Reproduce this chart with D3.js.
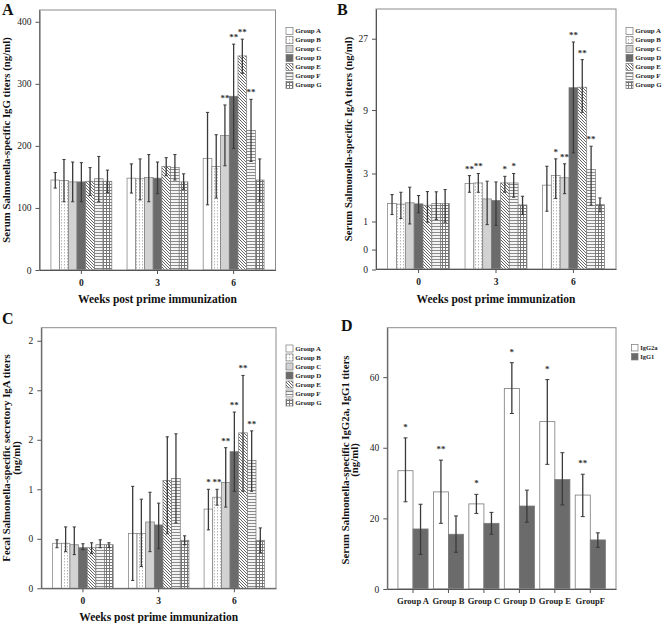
<!DOCTYPE html>
<html><head><meta charset="utf-8">
<script src="https://cdn.jsdelivr.net/npm/d3@7"></script>
<style>
html,body{margin:0;padding:0;background:#fff;}
svg{display:block;font-family:"Liberation Serif","Times New Roman",serif;}
</style></head>
<body>
<svg id="chart" width="664" height="623"></svg>
<script>
// ---------- DATA ----------
const weeks = ["0", "3", "6"];
const groups = ["Group A", "Group B", "Group C", "Group D", "Group E", "Group F", "Group G"];

// Panel A: serum IgG (ng/ml); rows = weeks, cols = groups
const iggMean = [[145,144,142,142,143,147,143],[148,147,149,148,167,165,142],[180,167,217,280,345,225,145]];
const iggHi   = [[157,178,174,173,165,183,161],[171,179,186,174,181,186,155],[254,218,266,364,372,275,179]];
const iggLo   = [[132,110,110,110,120,110,125],[124,113,110,123,152,145,130],[105,116,168,196,317,175,111]];
const iggStars = [["","","","","","",""],["","","","","","",""],["","","**","**","**","**",""]];
const iggTicks = [0,100,200,300,400];
const iggTickLabels = ["0","100","200","300","400"];

// Panel B: serum IgA (ng/ml)
const igaMean = [[1.59,1.57,1.62,1.58,1.53,1.59,1.59],[2.46,2.49,1.77,1.71,2.49,2.49,1.54],[2.38,2.88,2.76,12.8,12.9,3.23,1.55]];
const igaHi   = [[1.95,2.05,2.28,1.91,2.08,2.07,2.17],[2.88,3.0,2.58,2.54,2.84,3.0,1.88],[3.44,3.94,3.60,25.7,19.7,4.93,1.81]];
const igaLo   = [[1.21,1.09,0.93,1.27,0.98,1.06,0.98],[2.05,2.05,0.91,0.89,2.05,1.84,1.21],[1.32,1.79,1.99,4.39,8.68,1.53,1.30]];
const igaStars = [["","","","","","",""],["**","**","","","*","*",""],["","*","**","**","**","**",""]];
const igaTicks = [0,1/3,1,3,9,27];
const igaTickLabels = ["0","0","1","3","9","27"];

// Panel C: fecal secretory IgA (ng/ml)
const sigaMean = [[0.455,0.455,0.44,0.41,0.41,0.44,0.44],[0.555,0.555,0.67,0.64,1.09,1.11,0.485],[0.80,0.92,1.07,1.38,1.57,1.29,0.485]];
const sigaHi   = [[0.49,0.62,0.62,0.45,0.46,0.49,0.46],[1.03,0.90,0.97,0.86,1.53,1.56,0.53],[1.00,1.00,1.42,1.78,2.15,1.59,0.61]];
const sigaLo   = [[0.41,0.37,0.34,0.39,0.35,0.41,0.41],[0.08,0.22,0.37,0.40,0.55,0.66,0.44],[0.59,0.84,0.82,0.98,0.98,0.98,0.36]];
const sigaStars = [["","","","","","",""],["","","","","","",""],["*","**","**","**","**","**",""]];
const sigaTicks = [0,0.5,1,1.5,2,2.5];
const sigaTickLabels = ["0","0","1","2","2","2"];

// Panel D: IgG2a / IgG1 (ng/ml)
const dGroups = ["Group A","Group B","Group C","Group D","Group E","GroupF"];
const dSeries = ["IgG2a","IgG1"];
const igg2aMean = [33.5,27.5,24.1,56.8,47.4,26.6];
const igg2aHi   = [42.8,36.5,26.8,64.1,59.3,32.5];
const igg2aLo   = [24.7,18.6,21.4,49.7,35.3,20.5];
const igg2aStars = ["*","**","*","*","*","**"];
const igg1Mean = [17.0,15.5,18.6,23.5,31.0,13.9];
const igg1Hi   = [24.0,20.7,21.7,28.0,38.6,15.9];
const igg1Lo   = [9.8,10.4,15.5,18.9,23.8,11.8];
const dTicks = [0,20,40,60];
const dTickLabels = ["0","20","40","60"];

// ---------- DRAWING ----------
const svg = d3.select("#chart");
const FONT = '"Liberation Serif","Times New Roman",serif';
const defs = svg.append("defs");

function pat(id, w, h, bg, draw) {
  const p = defs.append("pattern").attr("id", id).attr("patternUnits", "userSpaceOnUse")
    .attr("width", w).attr("height", h);
  p.append("rect").attr("width", w).attr("height", h).attr("fill", bg);
  draw(p);
}
pat("pB", 3, 3, "#ffffff", p => p.append("rect").attr("x", 1).attr("y", 0).attr("width", 1).attr("height", 1.5).attr("fill", "#b8b8b8"));
pat("pE", 3, 3, "#ffffff", p => p.append("path").attr("d", "M0,0L3,3M-1,2L1,4M2,-1L4,1").attr("stroke", "#555").attr("stroke-width", 0.9));
pat("pF", 3, 3, "#f4f4f4", p => p.append("rect").attr("x", 0).attr("y", 1).attr("width", 3).attr("height", 1).attr("fill", "#8a8a8a"));
pat("pG", 3, 3, "#ffffff", p => {
  p.append("rect").attr("x", 0).attr("y", 1).attr("width", 3).attr("height", 1).attr("fill", "#777");
  p.append("rect").attr("x", 1).attr("y", 0).attr("width", 1).attr("height", 3).attr("fill", "#777");
});
const groupFill = ["#ffffff", "url(#pB)", "#d2d2d2", "#6b6b6b", "url(#pE)", "url(#pF)", "url(#pG)"];

function frameAndAxes(g, box, y, ticks, tickLabels, x, xLabelsBold) {
  g.append("rect").attr("x", box.l).attr("y", box.t).attr("width", box.r - box.l).attr("height", box.b - box.t)
    .attr("fill", "none").attr("stroke", "#8c8c8c").attr("stroke-width", 1);
  const ya = d3.axisLeft(y).tickValues(ticks).tickFormat((d, i) => tickLabels[i]).tickSize(4).tickSizeOuter(0);
  const yg = g.append("g").attr("transform", `translate(${box.l},0)`).call(ya);
  yg.select(".domain").attr("stroke", "#555");
  yg.selectAll(".tick line").attr("stroke", "#555");
  yg.selectAll(".tick text").attr("font-family", FONT).attr("font-size", 9.5).attr("fill", "#222").attr("dx", "-1");
  const xa = d3.axisBottom(x).tickSize(4).tickSizeOuter(0);
  const xg = g.append("g").attr("transform", `translate(0,${box.b})`).call(xa);
  xg.select(".domain").attr("stroke", "#555");
  xg.selectAll(".tick line").attr("stroke", "#555");
  xg.selectAll(".tick text").attr("font-family", FONT).attr("font-size", xLabelsBold ? 8.6 : 9.5)
    .attr("font-weight", "bold").attr("fill", "#222").attr("dy", "0.9em");
}

function yTitle(g, lines, xs, cy, size) {
  lines.forEach((t, i) => {
    g.append("text").attr("transform", `translate(${xs[i]},${cy}) rotate(-90)`)
      .attr("text-anchor", "middle").attr("font-family", FONT).attr("font-weight", "bold")
      .attr("font-size", size).attr("fill", "#111").text(t);
  });
}

function letter(g, t, x, yb) {
  g.append("text").attr("x", x).attr("y", yb).attr("font-family", FONT).attr("font-weight", "bold")
    .attr("font-size", 16).attr("fill", "#111").text(t);
}

function legend(g, x0, y0, names, fills, step, sw, fs) {
  names.forEach((n, i) => {
    const yy = y0 + i * step;
    g.append("rect").attr("x", x0).attr("y", yy - sw / 2).attr("width", sw).attr("height", sw)
      .attr("fill", fills[i]).attr("stroke", "#777").attr("stroke-width", 0.7);
    g.append("text").attr("x", x0 + sw + 2.2).attr("y", yy).attr("dy", "0.35em")
      .attr("font-family", FONT).attr("font-weight", "bold").attr("font-size", fs).attr("fill", "#222").text(n);
  });
}

function errBar(g, cx, yHi, yLo, cap) {
  g.append("line").attr("x1", cx).attr("x2", cx).attr("y1", yHi).attr("y2", yLo).attr("stroke", "#3a3a3a").attr("stroke-width", 1.3);
  [yHi, yLo].forEach(v => g.append("line").attr("x1", cx - cap).attr("x2", cx + cap).attr("y1", v).attr("y2", v)
    .attr("stroke", "#3a3a3a").attr("stroke-width", 1));
}

function groupedPanel(cfg) {
  const g = svg.append("g");
  const box = cfg.box;
  const x = d3.scaleBand().domain(weeks).range([box.l, box.r]).paddingInner(0.2).paddingOuter(0.15);
  const xi = d3.scaleBand().domain(groups).range([0, x.bandwidth()]);
  const y = cfg.y;
  weeks.forEach((w, wi) => {
    groups.forEach((gr, gi) => {
      const bx = x(w) + xi(gr);
      const m = cfg.mean[wi][gi];
      g.append("rect").attr("x", bx).attr("y", y(m)).attr("width", xi.bandwidth()).attr("height", y(0) - y(m))
        .attr("fill", groupFill[gi]).attr("stroke", "#7a7a7a").attr("stroke-width", 0.7);
    });
  });
  weeks.forEach((w, wi) => {
    groups.forEach((gr, gi) => {
      const cx = x(w) + xi(gr) + xi.bandwidth() / 2;
      errBar(g, cx, y(cfg.hi[wi][gi]), y(cfg.lo[wi][gi]), 1.6);
      const s = cfg.stars[wi][gi];
      if (s) g.append("text").attr("x", cx).attr("y", y(cfg.hi[wi][gi]) - 4).attr("text-anchor", "middle")
        .attr("font-family", FONT).attr("font-size", 9).attr("font-weight", "bold").attr("fill", "#333").text(s);
    });
  });
  frameAndAxes(g, box, y, cfg.ticks, cfg.tickLabels, x, false);
  g.append("text").attr("x", (box.l + box.r) / 2).attr("y", cfg.xTitleY).attr("text-anchor", "middle")
    .attr("font-family", FONT).attr("font-weight", "bold").attr("font-size", 11.5).attr("fill", "#111")
    .text("Weeks post prime immunization");
  yTitle(g, cfg.yTitle, cfg.yTitleX, (box.t + box.b) / 2, 10.8);
  legend(g, cfg.legX, cfg.legY, groups, groupFill, 9, 7, 6.9);
  letter(g, cfg.letter, cfg.letterX, cfg.letterY);
}

// Panel A
groupedPanel({
  box: {l: 39.5, r: 275.5, t: 10, b: 270},
  y: d3.scaleLinear().domain([0, 419]).range([270, 10]),
  mean: iggMean, hi: iggHi, lo: iggLo, stars: iggStars, ticks: iggTicks, tickLabels: iggTickLabels,
  xTitleY: 303, yTitle: ["Serum Salmonella-specific IgG titers (ng/ml)"], yTitleX: [10],
  legX: 286, legY: 31, letter: "A", letterX: 2, letterY: 15
});
// Panel B
groupedPanel({
  box: {l: 376, r: 616, t: 9, b: 269},
  y: d3.scaleSymlog().constant(1).domain([0, 42]).range([269.5, 9]),
  mean: igaMean, hi: igaHi, lo: igaLo, stars: igaStars, ticks: igaTicks, tickLabels: igaTickLabels,
  xTitleY: 303, yTitle: ["Serum Salmonella-specific IgA titers (ng/ml)"], yTitleX: [352],
  legX: 626, legY: 31, letter: "B", letterX: 337, letterY: 15
});
// Panel C
groupedPanel({
  box: {l: 41.3, r: 276, t: 327.7, b: 588.3},
  y: d3.scaleLinear().domain([0, 2.632]).range([588.3, 327.7]),
  mean: sigaMean, hi: sigaHi, lo: sigaLo, stars: sigaStars, ticks: sigaTicks, tickLabels: sigaTickLabels,
  xTitleY: 620.5, yTitle: ["Fecal Salmonella-specific secretory IgA titers", "(ng/ml)"], yTitleX: [10, 20],
  legX: 286, legY: 348.5, letter: "C", letterX: 2, letterY: 324
});

// Panel D
(function () {
  const g = svg.append("g");
  const box = {l: 387.3, r: 616, t: 327.7, b: 589};
  const x = d3.scaleBand().domain(dGroups).range([box.l, box.r]).paddingInner(0.15).paddingOuter(0.3);
  const xi = d3.scaleBand().domain(dSeries).range([0, x.bandwidth()]);
  const y = d3.scaleLinear().domain([0, 74]).range([box.b, box.t]);
  const fills = ["#ffffff", "#6b6b6b"];
  const means = [igg2aMean, igg1Mean], his = [igg2aHi, igg1Hi], los = [igg2aLo, igg1Lo];
  dSeries.forEach((s, si) => {
    dGroups.forEach((gr, gi) => {
      const m = means[si][gi];
      g.append("rect").attr("x", x(gr) + xi(s)).attr("y", y(m)).attr("width", xi.bandwidth()).attr("height", y(0) - y(m))
        .attr("fill", fills[si]).attr("stroke", "#7a7a7a").attr("stroke-width", 0.8);
    });
  });
  dSeries.forEach((s, si) => {
    dGroups.forEach((gr, gi) => {
      const cx = x(gr) + xi(s) + xi.bandwidth() / 2;
      errBar(g, cx, y(his[si][gi]), y(los[si][gi]), 2);
      if (si === 0 && igg2aStars[gi]) g.append("text").attr("x", cx).attr("y", y(his[si][gi]) - 8).attr("text-anchor", "middle")
        .attr("font-family", FONT).attr("font-size", 9).attr("font-weight", "bold").attr("fill", "#333").text(igg2aStars[gi]);
    });
  });
  frameAndAxes(g, box, y, dTicks, dTickLabels, x, true);
  yTitle(g, ["Serum Salmonella-specific IgG2a, IgG1 titers", "(ng/ml)"], [349, 358], 460, 10.8);
  legend(g, 631.5, 347.7, dSeries, fills, 9, 6.5, 6.5);
  letter(g, "D", 341, 331);
})();
</script>
</body></html>
